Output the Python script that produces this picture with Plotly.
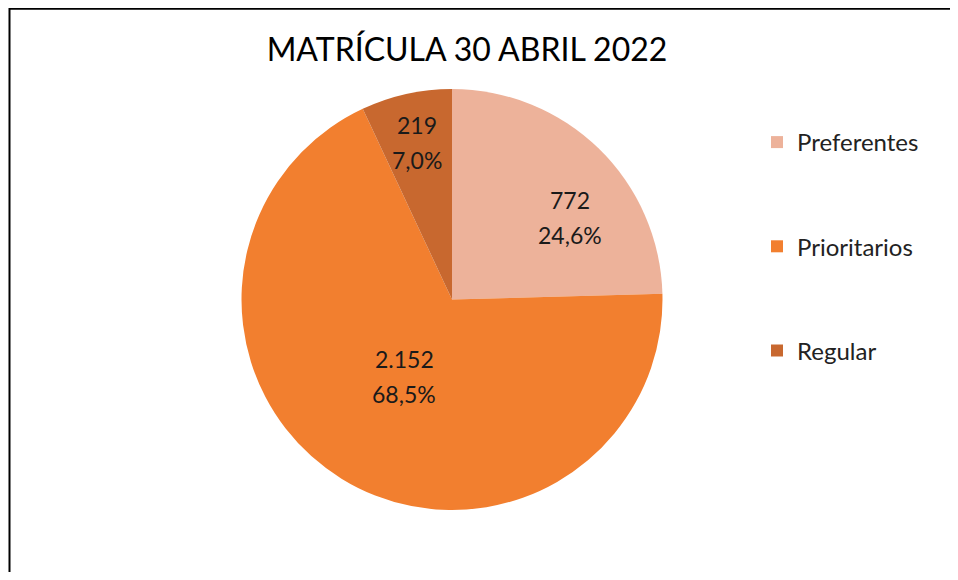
import math
import plotly.graph_objects as go

# Datos de matrícula
categorias = ["Preferentes", "Prioritarios", "Regular"]
alumnos = [772, 2152, 219]
colores = ["#EDB29A", "#F27F2F", "#C8682F"]

# tamaño de la figura (la página deja 8px de margen)
W, H = 950, 564
OFF = 8

def px_x(x):
    return (x - OFF) / W

def px_y(y):
    return 1 - (y - OFF) / H

# caja del pie en pixeles de pantalla
pie_x0, pie_x1, pie_y0, pie_y1 = 241, 663, 89, 510
cx, cy = (pie_x0 + pie_x1) / 2, (pie_y0 + pie_y1) / 2
R = (pie_x1 - pie_x0) / 2

# ajuste de posicion de etiquetas: (desfase de angulo, fraccion de radio)
ajuste_etq = [(11, 0.68), (0, 0.43), (0, 0.76)]

fig = go.Figure()

fig.add_trace(go.Pie(
    labels=categorias,
    values=alumnos,
    sort=False,
    direction="clockwise",
    rotation=0,
    marker=dict(colors=colores, line=dict(width=0)),
    textinfo="none",
    domain=dict(x=[px_x(pie_x0), px_x(pie_x1)], y=[px_y(pie_y1), px_y(pie_y0)]),
    showlegend=False,
    hoverinfo="label+value+percent",
))

# etiquetas: valor y porcentaje
total = sum(alumnos)
acum = 0
anots = []
for val, (da, fr) in zip(alumnos, ajuste_etq):
    mid = (acum + val / 2) / total * 360 + da
    acum += val
    x = cx + fr * R * math.sin(math.radians(mid))
    y = cy - fr * R * math.cos(math.radians(mid))
    valor = f"{val:,}".replace(",", ".")
    pct = f"{val / total * 100:.1f}%".replace(".", ",")
    for txt, dy in [(valor, 17.5), (pct, -17.5)]:
        anots.append(dict(text=txt, x=px_x(x), y=px_y(y), xref="paper", yref="paper",
                          yshift=dy, showarrow=False, xanchor="center", yanchor="middle",
                          font=dict(family="Lato", size=23, color="#1a1a1a")))

# leyenda con más separación entre elementos
for cat, col in zip(categorias, colores):
    fig.add_trace(go.Scatter(
        x=[None], y=[None], mode="markers", name=cat, legendgroup=cat,
        marker=dict(symbol="square", size=12, color=col),
    ))

# marco: solo borde izquierdo y superior
marco = f"M {1.5 / W},0 L {1.5 / W},{1 - 0.75 / H} L 1.2,{1 - 0.75 / H}"

fig.update_layout(
    width=W, height=H,
    margin=dict(l=0, r=0, t=0, b=0),
    paper_bgcolor="white", plot_bgcolor="white",
    separators=",.",
    title=dict(text="MATRÍCULA 30 ABRIL 2022", x=px_x(467), y=px_y(50),
               xanchor="center", yanchor="middle",
               font=dict(family="Lato", size=32, color="#000000")),
    xaxis=dict(visible=False), yaxis=dict(visible=False),
    annotations=anots,
    legend=dict(x=px_x(757), y=px_y(120), xanchor="left", yanchor="top",
                font=dict(family="Lato", size=24, color="#222222"),
                tracegroupgap=70, itemwidth=30),
    shapes=[dict(type="path", path=marco, xref="paper", yref="paper",
                 line=dict(color="black", width=2))],
)

fig.write_html("out.html")
